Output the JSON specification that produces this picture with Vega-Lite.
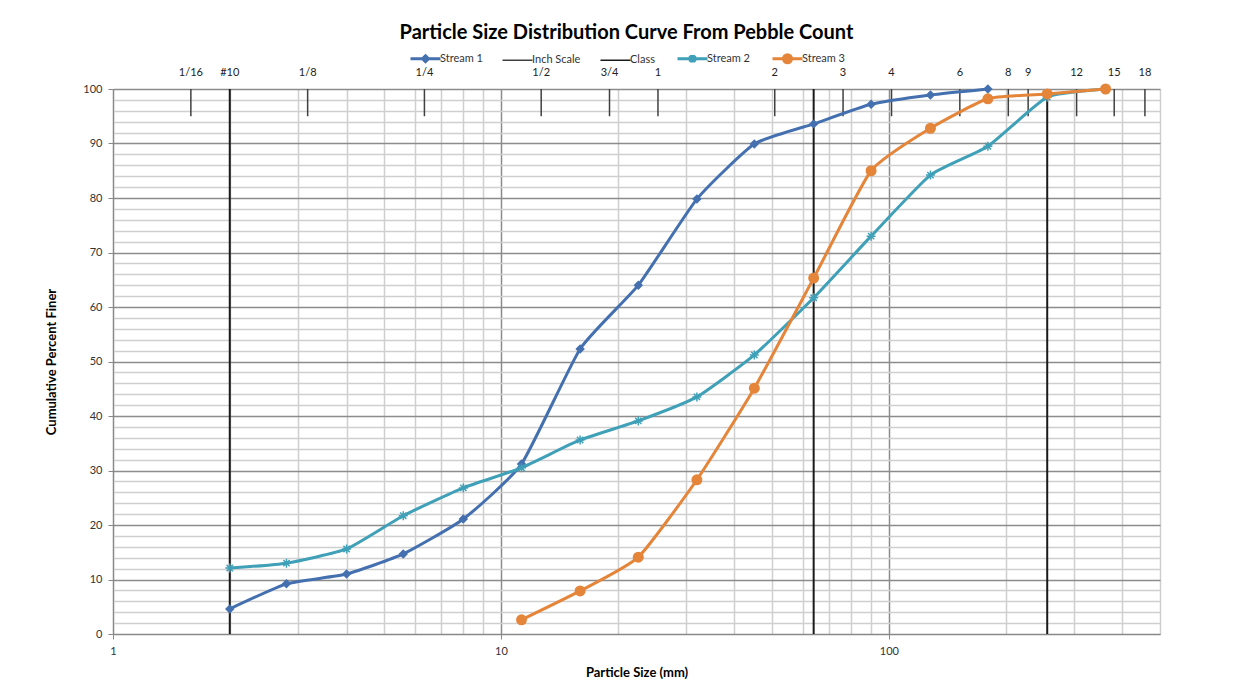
{
  "$schema": "https://vega.github.io/schema/vega-lite/v6.json",
  "width": 1047,
  "height": 545,
  "autosize": "none",
  "padding": {"left": 113, "top": 89, "right": 79, "bottom": 64},
  "background": "white",
  "config": {
    "font": "Lato",
    "view": {"stroke": null},
    "legend": {
      "orient": "none", "legendX": 307, "legendY": -36, "direction": "horizontal",
      "labelFontSize": 11, "labelColor": "#333333", "labelOffset": 9,
      "symbolSize": 100, "symbolStrokeWidth": 3, "columnPadding": 16, "symbolType": "M-3,0L3,0M0,-0.8M0,0.8"
    }
  },
  "title": {"text": "Particle Size Distribution Curve From Pebble Count", "fontSize": 20, "fontWeight": "bold", "color": "#000000", "anchor": "middle", "dx": -10, "offset": 10},
  "datasets": {
    "streams": [
      {"series": "Stream 1", "mm": 2, "pct": 4.6},
      {"series": "Stream 1", "mm": 2.8, "pct": 9.2},
      {"series": "Stream 1", "mm": 4, "pct": 11.0},
      {"series": "Stream 1", "mm": 5.6, "pct": 14.7},
      {"series": "Stream 1", "mm": 8, "pct": 21.1},
      {"series": "Stream 1", "mm": 11.3, "pct": 31.2},
      {"series": "Stream 1", "mm": 16, "pct": 52.3},
      {"series": "Stream 1", "mm": 22.6, "pct": 64.0},
      {"series": "Stream 1", "mm": 32, "pct": 79.8},
      {"series": "Stream 1", "mm": 45, "pct": 89.9},
      {"series": "Stream 1", "mm": 64, "pct": 93.6},
      {"series": "Stream 1", "mm": 90, "pct": 97.2},
      {"series": "Stream 1", "mm": 128, "pct": 98.9},
      {"series": "Stream 1", "mm": 180, "pct": 100},
      {"series": "Stream 2", "mm": 2, "pct": 12.1},
      {"series": "Stream 2", "mm": 2.8, "pct": 13.0},
      {"series": "Stream 2", "mm": 4, "pct": 15.6},
      {"series": "Stream 2", "mm": 5.6, "pct": 21.7},
      {"series": "Stream 2", "mm": 8, "pct": 26.8},
      {"series": "Stream 2", "mm": 11.3, "pct": 30.5},
      {"series": "Stream 2", "mm": 16, "pct": 35.6},
      {"series": "Stream 2", "mm": 22.6, "pct": 39.1},
      {"series": "Stream 2", "mm": 32, "pct": 43.5},
      {"series": "Stream 2", "mm": 45, "pct": 51.2},
      {"series": "Stream 2", "mm": 64, "pct": 61.7},
      {"series": "Stream 2", "mm": 90, "pct": 73.0},
      {"series": "Stream 2", "mm": 128, "pct": 84.2},
      {"series": "Stream 2", "mm": 180, "pct": 89.5},
      {"series": "Stream 2", "mm": 256, "pct": 98.5},
      {"series": "Stream 2", "mm": 362, "pct": 100},
      {"series": "Stream 3", "mm": 11.3, "pct": 2.6},
      {"series": "Stream 3", "mm": 16, "pct": 7.9},
      {"series": "Stream 3", "mm": 22.6, "pct": 14.1},
      {"series": "Stream 3", "mm": 32, "pct": 28.3},
      {"series": "Stream 3", "mm": 45, "pct": 45.1},
      {"series": "Stream 3", "mm": 64, "pct": 65.3},
      {"series": "Stream 3", "mm": 90, "pct": 85.0},
      {"series": "Stream 3", "mm": 128, "pct": 92.8},
      {"series": "Stream 3", "mm": 180, "pct": 98.2},
      {"series": "Stream 3", "mm": 256, "pct": 99.1},
      {"series": "Stream 3", "mm": 362, "pct": 100}
    ],
    "inch": [
      {"mm": 1.5875, "label": "1/16"},
      {"mm": 2, "label": "#10"},
      {"mm": 3.175, "label": "1/8"},
      {"mm": 6.35, "label": "1/4"},
      {"mm": 12.7, "label": "1/2"},
      {"mm": 19.05, "label": "3/4"},
      {"mm": 25.4, "label": "1"},
      {"mm": 50.8, "label": "2"},
      {"mm": 76.2, "label": "3"},
      {"mm": 101.6, "label": "4"},
      {"mm": 152.4, "label": "6"},
      {"mm": 203.2, "label": "8"},
      {"mm": 228.6, "label": "9"},
      {"mm": 304.8, "label": "12"},
      {"mm": 381, "label": "15"},
      {"mm": 457.2, "label": "18"}
    ],
    "cls": [
      {"mm": 2},
      {"mm": 64},
      {"mm": 256}
    ]
  },
  "encoding": {
    "x": {
      "field": "mm", "type": "quantitative",
      "scale": {"type": "log", "domain": [1, 500], "nice": false},
      "axis": {
        "title": "Particle Size (mm)",
        "titleFontSize": 13, "titleFontWeight": "bold", "titleColor": "#000000", "titlePadding": 10,
        "values": [1,2,3,4,5,6,7,8,9,10,20,30,40,50,60,70,80,90,100,200,300,400,500],
        "format": "d",
        "labelExpr": "datum.value === 1 || datum.value === 10 || datum.value === 100 ? datum.label : ''",
        "labelFontSize": 11, "labelColor": "#333333", "labelPadding": 6,
        "labelOverlap": false, "labelFlush": false, "labelBound": false,
        "tickSize": 5,
        "tickColor": {"condition": {"test": "datum.value === 1 || datum.value === 10 || datum.value === 100", "value": "#888888"}, "value": "transparent"},
        "domainColor": "#888888",
        "grid": true,
        "gridColor": {"condition": {"test": "datum.value === 1 || datum.value === 10 || datum.value === 100", "value": "#8c8c8c"}, "value": "#cfcfcf"},
        "gridWidth": 1.5
      }
    }
  },
  "layer": [
    {
      "data": {"name": "cls"},
      "mark": {"type": "rule", "strokeWidth": 2},
      "encoding": {
        "y": {"datum": 0, "type": "quantitative",
          "scale": {"domain": [0, 100], "nice": false},
          "axis": {
            "title": "Cumulative Percent Finer",
            "titleFontSize": 13, "titleFontWeight": "bold", "titleColor": "#000000", "titlePadding": 24,
            "values": [0,2,4,6,8,10,12,14,16,18,20,22,24,26,28,30,32,34,36,38,40,42,44,46,48,50,52,54,56,58,60,62,64,66,68,70,72,74,76,78,80,82,84,86,88,90,92,94,96,98,100],
            "labelExpr": "datum.value % 10 === 0 ? datum.label : ''",
            "labelFontSize": 11, "labelColor": "#333333", "labelPadding": 6,
            "labelOverlap": false, "labelFlush": false,
            "tickSize": 5,
            "tickColor": {"condition": {"test": "datum.value % 10 === 0", "value": "#888888"}, "value": "transparent"},
            "domainColor": "#888888",
            "grid": true,
            "gridColor": {"condition": {"test": "datum.value % 10 === 0", "value": "#8c8c8c"}, "value": "#cfcfcf"},
            "gridWidth": 1.5
          }},
        "y2": {"datum": 100},
        "color": {"datum": "Class", "type": "nominal",
          "scale": {"domain": ["Stream 1", "Inch Scale", "Class", "Stream 2", "Stream 3"], "range": ["#4470B0", "#404040", "#1a1a1a", "#3FA0B8", "#E5853A"]},
          "legend": {"title": null,
            "encode": {"symbols": {"update": {
              "shape": {"signal": "datum.value === 'Stream 1' ? 'M-3,0L3,0M0,-0.8M0,0.8M0,-0.6L0.6,0L0,0.6L-0.6,0Z' : datum.value === 'Stream 3' ? 'M-3,0L3,0M0,-0.8M0,0.8M-0.8,0A0.8,0.8 0 1,0 0.8,0A0.8,0.8 0 1,0 -0.8,0Z' : datum.value === 'Stream 2' ? 'M-3,0L3,0M0,-0.8M0,0.8M-0.6,-0.6L0.6,0.6M-0.6,0.6L0.6,-0.6M0,-0.75L0,0.75' : 'M-3,0L3,0M0,-0.8M0,0.8'"},
              "fill": {"signal": "datum.value === 'Stream 1' || datum.value === 'Stream 3' ? scale('color', datum.value) : 'transparent'"},
              "strokeWidth": {"signal": "datum.value === 'Inch Scale' || datum.value === 'Class' ? 1.5 : 3"}
            }}}}}
      }
    },
    {
      "data": {"name": "inch"},
      "transform": [{"filter": "datum.mm !== 2"}],
      "mark": {"type": "rule", "strokeWidth": 1.5},
      "encoding": {
        "y": {"datum": 95, "type": "quantitative",
          "scale": {"domain": [0, 100], "nice": false},
          "axis": {
            "title": "Cumulative Percent Finer",
            "titleFontSize": 13, "titleFontWeight": "bold", "titleColor": "#000000", "titlePadding": 24,
            "values": [0,2,4,6,8,10,12,14,16,18,20,22,24,26,28,30,32,34,36,38,40,42,44,46,48,50,52,54,56,58,60,62,64,66,68,70,72,74,76,78,80,82,84,86,88,90,92,94,96,98,100],
            "labelExpr": "datum.value % 10 === 0 ? datum.label : ''",
            "labelFontSize": 11, "labelColor": "#333333", "labelPadding": 6,
            "labelOverlap": false, "labelFlush": false,
            "tickSize": 5,
            "tickColor": {"condition": {"test": "datum.value % 10 === 0", "value": "#888888"}, "value": "transparent"},
            "domainColor": "#888888",
            "grid": true,
            "gridColor": {"condition": {"test": "datum.value % 10 === 0", "value": "#8c8c8c"}, "value": "#cfcfcf"},
            "gridWidth": 1.5
          }},
        "y2": {"datum": 100},
        "color": {"datum": "Inch Scale", "type": "nominal",
          "scale": {"domain": ["Stream 1", "Inch Scale", "Class", "Stream 2", "Stream 3"], "range": ["#4470B0", "#404040", "#1a1a1a", "#3FA0B8", "#E5853A"]},
          "legend": {"title": null,
            "encode": {"symbols": {"update": {
              "shape": {"signal": "datum.value === 'Stream 1' ? 'M-3,0L3,0M0,-0.8M0,0.8M0,-0.6L0.6,0L0,0.6L-0.6,0Z' : datum.value === 'Stream 3' ? 'M-3,0L3,0M0,-0.8M0,0.8M-0.8,0A0.8,0.8 0 1,0 0.8,0A0.8,0.8 0 1,0 -0.8,0Z' : datum.value === 'Stream 2' ? 'M-3,0L3,0M0,-0.8M0,0.8M-0.6,-0.6L0.6,0.6M-0.6,0.6L0.6,-0.6M0,-0.75L0,0.75' : 'M-3,0L3,0M0,-0.8M0,0.8'"},
              "fill": {"signal": "datum.value === 'Stream 1' || datum.value === 'Stream 3' ? scale('color', datum.value) : 'transparent'"},
              "strokeWidth": {"signal": "datum.value === 'Inch Scale' || datum.value === 'Class' ? 1.5 : 3"}
            }}}}}
      }
    },
    {
      "data": {"name": "inch"},
      "mark": {"type": "text", "fontSize": 11, "color": "#222222", "baseline": "middle", "align": "center", "dy": -16},
      "encoding": {
        "y": {"datum": 100, "type": "quantitative",
          "scale": {"domain": [0, 100], "nice": false},
          "axis": {
            "title": "Cumulative Percent Finer",
            "titleFontSize": 13, "titleFontWeight": "bold", "titleColor": "#000000", "titlePadding": 24,
            "values": [0,2,4,6,8,10,12,14,16,18,20,22,24,26,28,30,32,34,36,38,40,42,44,46,48,50,52,54,56,58,60,62,64,66,68,70,72,74,76,78,80,82,84,86,88,90,92,94,96,98,100],
            "labelExpr": "datum.value % 10 === 0 ? datum.label : ''",
            "labelFontSize": 11, "labelColor": "#333333", "labelPadding": 6,
            "labelOverlap": false, "labelFlush": false,
            "tickSize": 5,
            "tickColor": {"condition": {"test": "datum.value % 10 === 0", "value": "#888888"}, "value": "transparent"},
            "domainColor": "#888888",
            "grid": true,
            "gridColor": {"condition": {"test": "datum.value % 10 === 0", "value": "#8c8c8c"}, "value": "#cfcfcf"},
            "gridWidth": 1.5
          }},
        "text": {"field": "label"}
      }
    },
    {
      "data": {"name": "streams"},
      "transform": [{"filter": "datum.series === 'Stream 1'"}],
      "mark": {"type": "line", "strokeWidth": 3, "interpolate": "cardinal", "tension": 0.5, "point": {"shape": "diamond", "size": 90, "filled": true}},
      "encoding": {
        "y": {"field": "pct", "type": "quantitative",
          "scale": {"domain": [0, 100], "nice": false},
          "axis": {
            "title": "Cumulative Percent Finer",
            "titleFontSize": 13, "titleFontWeight": "bold", "titleColor": "#000000", "titlePadding": 24,
            "values": [0,2,4,6,8,10,12,14,16,18,20,22,24,26,28,30,32,34,36,38,40,42,44,46,48,50,52,54,56,58,60,62,64,66,68,70,72,74,76,78,80,82,84,86,88,90,92,94,96,98,100],
            "labelExpr": "datum.value % 10 === 0 ? datum.label : ''",
            "labelFontSize": 11, "labelColor": "#333333", "labelPadding": 6,
            "labelOverlap": false, "labelFlush": false,
            "tickSize": 5,
            "tickColor": {"condition": {"test": "datum.value % 10 === 0", "value": "#888888"}, "value": "transparent"},
            "domainColor": "#888888",
            "grid": true,
            "gridColor": {"condition": {"test": "datum.value % 10 === 0", "value": "#8c8c8c"}, "value": "#cfcfcf"},
            "gridWidth": 1.5
          }},
        "color": {"field": "series", "type": "nominal",
          "scale": {"domain": ["Stream 1", "Inch Scale", "Class", "Stream 2", "Stream 3"], "range": ["#4470B0", "#404040", "#1a1a1a", "#3FA0B8", "#E5853A"]},
          "legend": {"title": null,
            "encode": {"symbols": {"update": {
              "shape": {"signal": "datum.value === 'Stream 1' ? 'M-3,0L3,0M0,-0.8M0,0.8M0,-0.6L0.6,0L0,0.6L-0.6,0Z' : datum.value === 'Stream 3' ? 'M-3,0L3,0M0,-0.8M0,0.8M-0.8,0A0.8,0.8 0 1,0 0.8,0A0.8,0.8 0 1,0 -0.8,0Z' : datum.value === 'Stream 2' ? 'M-3,0L3,0M0,-0.8M0,0.8M-0.6,-0.6L0.6,0.6M-0.6,0.6L0.6,-0.6M0,-0.75L0,0.75' : 'M-3,0L3,0M0,-0.8M0,0.8'"},
              "fill": {"signal": "datum.value === 'Stream 1' || datum.value === 'Stream 3' ? scale('color', datum.value) : 'transparent'"},
              "strokeWidth": {"signal": "datum.value === 'Inch Scale' || datum.value === 'Class' ? 1.5 : 3"}
            }}}}}
      }
    },
    {
      "data": {"name": "streams"},
      "transform": [{"filter": "datum.series === 'Stream 2'"}],
      "mark": {"type": "line", "strokeWidth": 3, "interpolate": "cardinal", "tension": 0.5, "point": {"shape": "M-1,0L1,0M0,-1L0,1M-0.7,-0.7L0.7,0.7M-0.7,0.7L0.7,-0.7", "size": 81, "filled": false, "strokeWidth": 1.5}},
      "encoding": {
        "y": {"field": "pct", "type": "quantitative",
          "scale": {"domain": [0, 100], "nice": false},
          "axis": {
            "title": "Cumulative Percent Finer",
            "titleFontSize": 13, "titleFontWeight": "bold", "titleColor": "#000000", "titlePadding": 24,
            "values": [0,2,4,6,8,10,12,14,16,18,20,22,24,26,28,30,32,34,36,38,40,42,44,46,48,50,52,54,56,58,60,62,64,66,68,70,72,74,76,78,80,82,84,86,88,90,92,94,96,98,100],
            "labelExpr": "datum.value % 10 === 0 ? datum.label : ''",
            "labelFontSize": 11, "labelColor": "#333333", "labelPadding": 6,
            "labelOverlap": false, "labelFlush": false,
            "tickSize": 5,
            "tickColor": {"condition": {"test": "datum.value % 10 === 0", "value": "#888888"}, "value": "transparent"},
            "domainColor": "#888888",
            "grid": true,
            "gridColor": {"condition": {"test": "datum.value % 10 === 0", "value": "#8c8c8c"}, "value": "#cfcfcf"},
            "gridWidth": 1.5
          }},
        "color": {"field": "series", "type": "nominal",
          "scale": {"domain": ["Stream 1", "Inch Scale", "Class", "Stream 2", "Stream 3"], "range": ["#4470B0", "#404040", "#1a1a1a", "#3FA0B8", "#E5853A"]},
          "legend": {"title": null,
            "encode": {"symbols": {"update": {
              "shape": {"signal": "datum.value === 'Stream 1' ? 'M-3,0L3,0M0,-0.8M0,0.8M0,-0.6L0.6,0L0,0.6L-0.6,0Z' : datum.value === 'Stream 3' ? 'M-3,0L3,0M0,-0.8M0,0.8M-0.8,0A0.8,0.8 0 1,0 0.8,0A0.8,0.8 0 1,0 -0.8,0Z' : datum.value === 'Stream 2' ? 'M-3,0L3,0M0,-0.8M0,0.8M-0.6,-0.6L0.6,0.6M-0.6,0.6L0.6,-0.6M0,-0.75L0,0.75' : 'M-3,0L3,0M0,-0.8M0,0.8'"},
              "fill": {"signal": "datum.value === 'Stream 1' || datum.value === 'Stream 3' ? scale('color', datum.value) : 'transparent'"},
              "strokeWidth": {"signal": "datum.value === 'Inch Scale' || datum.value === 'Class' ? 1.5 : 3"}
            }}}}}
      }
    },
    {
      "data": {"name": "streams"},
      "transform": [{"filter": "datum.series === 'Stream 3'"}],
      "mark": {"type": "line", "strokeWidth": 3, "interpolate": "cardinal", "tension": 0.5, "point": {"shape": "circle", "size": 121, "filled": true}},
      "encoding": {
        "y": {"field": "pct", "type": "quantitative",
          "scale": {"domain": [0, 100], "nice": false},
          "axis": {
            "title": "Cumulative Percent Finer",
            "titleFontSize": 13, "titleFontWeight": "bold", "titleColor": "#000000", "titlePadding": 24,
            "values": [0,2,4,6,8,10,12,14,16,18,20,22,24,26,28,30,32,34,36,38,40,42,44,46,48,50,52,54,56,58,60,62,64,66,68,70,72,74,76,78,80,82,84,86,88,90,92,94,96,98,100],
            "labelExpr": "datum.value % 10 === 0 ? datum.label : ''",
            "labelFontSize": 11, "labelColor": "#333333", "labelPadding": 6,
            "labelOverlap": false, "labelFlush": false,
            "tickSize": 5,
            "tickColor": {"condition": {"test": "datum.value % 10 === 0", "value": "#888888"}, "value": "transparent"},
            "domainColor": "#888888",
            "grid": true,
            "gridColor": {"condition": {"test": "datum.value % 10 === 0", "value": "#8c8c8c"}, "value": "#cfcfcf"},
            "gridWidth": 1.5
          }},
        "color": {"field": "series", "type": "nominal",
          "scale": {"domain": ["Stream 1", "Inch Scale", "Class", "Stream 2", "Stream 3"], "range": ["#4470B0", "#404040", "#1a1a1a", "#3FA0B8", "#E5853A"]},
          "legend": {"title": null,
            "encode": {"symbols": {"update": {
              "shape": {"signal": "datum.value === 'Stream 1' ? 'M-3,0L3,0M0,-0.8M0,0.8M0,-0.6L0.6,0L0,0.6L-0.6,0Z' : datum.value === 'Stream 3' ? 'M-3,0L3,0M0,-0.8M0,0.8M-0.8,0A0.8,0.8 0 1,0 0.8,0A0.8,0.8 0 1,0 -0.8,0Z' : datum.value === 'Stream 2' ? 'M-3,0L3,0M0,-0.8M0,0.8M-0.6,-0.6L0.6,0.6M-0.6,0.6L0.6,-0.6M0,-0.75L0,0.75' : 'M-3,0L3,0M0,-0.8M0,0.8'"},
              "fill": {"signal": "datum.value === 'Stream 1' || datum.value === 'Stream 3' ? scale('color', datum.value) : 'transparent'"},
              "strokeWidth": {"signal": "datum.value === 'Inch Scale' || datum.value === 'Class' ? 1.5 : 3"}
            }}}}}
      }
    }
  ]
}
